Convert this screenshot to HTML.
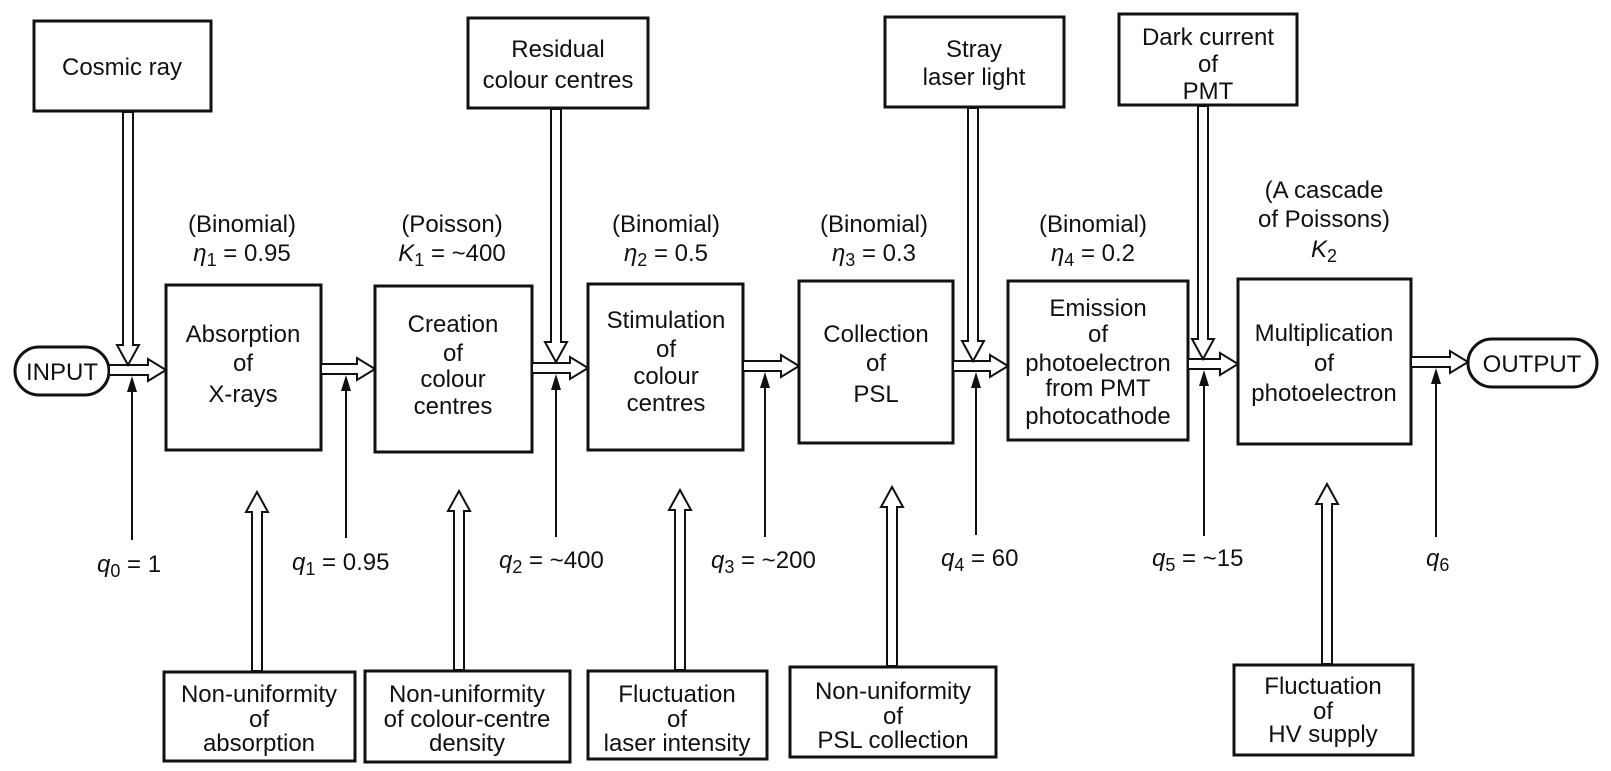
<!DOCTYPE html>
<html><head><meta charset="utf-8"><style>
html,body{margin:0;padding:0;background:#fff;}
svg{display:block;}
text{font-family:"Liberation Sans",Arial,sans-serif;font-size:24px;fill:#111;}
.c{text-anchor:middle;}
.i{font-style:italic;}
</style></head><body>
<svg width="1611" height="771" viewBox="0 0 1611 771" xmlns="http://www.w3.org/2000/svg">
<g fill="#fff" stroke="#111" stroke-width="3">
<rect x="166" y="285" width="155" height="165"/>
<rect x="375" y="286" width="157" height="166"/>
<rect x="588" y="284" width="155" height="166"/>
<rect x="799" y="281" width="154" height="162"/>
<rect x="1008" y="281" width="180" height="159"/>
<rect x="1238" y="279" width="173" height="165"/>
<rect x="15" y="347" width="94" height="48" rx="24"/>
<rect x="1468" y="339" width="129" height="48" rx="24"/>
<rect x="34" y="21" width="177" height="90"/>
<rect x="468" y="18" width="180" height="90"/>
<rect x="885" y="17" width="179" height="90"/>
<rect x="1119" y="14" width="178" height="91"/>
<rect x="164" y="672" width="191" height="89"/>
<rect x="365" y="671" width="205" height="91"/>
<rect x="588" y="671" width="179" height="88"/>
<rect x="790" y="667" width="206" height="90"/>
<rect x="1234" y="665" width="179" height="90"/>
</g>
<g fill="#fff" stroke="#111" stroke-width="2" stroke-linejoin="miter">
<polygon points="109,365 148,365 148,359 166,370 148,381 148,375 109,375"/>
<polygon points="321,364 357,364 357,358 375,369 357,380 357,374 321,374"/>
<polygon points="532,363 570,363 570,357 588,368 570,379 570,373 532,373"/>
<polygon points="743,361 781,361 781,355 799,366 781,377 781,371 743,371"/>
<polygon points="953,361 990,361 990,355 1008,366 990,377 990,371 953,371"/>
<polygon points="1188,359 1220,359 1220,353 1238,364 1220,375 1220,369 1188,369"/>
<polygon points="1411,357 1450,357 1450,351 1468,362 1450,373 1450,367 1411,367"/>
<polygon points="123,112 123,345 117,345 128,365 139,345 133,345 133,112"/>
<polygon points="551,109 551,342 545,342 556,362 567,342 561,342 561,109"/>
<polygon points="968,108 968,341 962,341 973,361 984,341 978,341 978,108"/>
<polygon points="1198,106 1198,339 1192,339 1203,359 1214,339 1208,339 1208,106"/>
<polygon points="252,671 252,512 246,512 257,492 268,512 262,512 262,671"/>
<polygon points="454,670 454,511 448,511 459,491 470,511 464,511 464,670"/>
<polygon points="675,670 675,510 669,510 680,490 691,510 685,510 685,670"/>
<polygon points="887,666 887,507 881,507 892,487 903,507 897,507 897,666"/>
<polygon points="1322,664 1322,504 1316,504 1327,484 1338,504 1332,504 1332,664"/>
</g>
<g stroke="#111" stroke-width="2">
<line x1="132" y1="540" x2="132" y2="390"/>
<line x1="346" y1="538" x2="346" y2="389"/>
<line x1="556" y1="537" x2="556" y2="388"/>
<line x1="765" y1="537" x2="765" y2="386"/>
<line x1="976" y1="535" x2="976" y2="386"/>
<line x1="1204" y1="536" x2="1204" y2="384"/>
<line x1="1436" y1="537" x2="1436" y2="382"/>
</g>
<g fill="#111">
<polygon points="132,376 127,392 137,392"/>
<polygon points="346,375 341,391 351,391"/>
<polygon points="556,374 551,390 561,390"/>
<polygon points="765,372 760,388 770,388"/>
<polygon points="976,372 971,388 981,388"/>
<polygon points="1204,370 1199,386 1209,386"/>
<polygon points="1436,368 1431,384 1441,384"/>
</g>
<text x="62" y="380" class="c">INPUT</text>
<text x="1532" y="372" class="c">OUTPUT</text>
<text class="c"><tspan x="243" y="342">Absorption</tspan><tspan x="243" y="371">of</tspan><tspan x="243" y="402">X-rays</tspan></text>
<text class="c"><tspan x="453" y="332">Creation</tspan><tspan x="453" y="361">of</tspan><tspan x="453" y="387">colour</tspan><tspan x="453" y="414">centres</tspan></text>
<text class="c"><tspan x="666" y="328">Stimulation</tspan><tspan x="666" y="357">of</tspan><tspan x="666" y="384">colour</tspan><tspan x="666" y="411">centres</tspan></text>
<text class="c"><tspan x="876" y="342">Collection</tspan><tspan x="876" y="371">of</tspan><tspan x="876" y="402">PSL</tspan></text>
<text class="c"><tspan x="1098" y="316">Emission</tspan><tspan x="1098" y="342">of</tspan><tspan x="1098" y="371">photoelectron</tspan><tspan x="1098" y="396">from PMT</tspan><tspan x="1098" y="424">photocathode</tspan></text>
<text class="c"><tspan x="1324" y="341">Multiplication</tspan><tspan x="1324" y="371">of</tspan><tspan x="1324" y="401">photoelectron</tspan></text>
<text class="c" x="122" y="75">Cosmic ray</text>
<text class="c"><tspan x="558" y="57">Residual</tspan><tspan x="558" y="88">colour centres</tspan></text>
<text class="c"><tspan x="974" y="57">Stray</tspan><tspan x="974" y="85">laser light</tspan></text>
<text class="c"><tspan x="1208" y="45">Dark current</tspan><tspan x="1208" y="72">of</tspan><tspan x="1208" y="99">PMT</tspan></text>
<text class="c"><tspan x="259" y="702">Non-uniformity</tspan><tspan x="259" y="727">of</tspan><tspan x="259" y="751">absorption</tspan></text>
<text class="c"><tspan x="467" y="702">Non-uniformity</tspan><tspan x="467" y="727">of colour-centre</tspan><tspan x="467" y="751">density</tspan></text>
<text class="c"><tspan x="677" y="702">Fluctuation</tspan><tspan x="677" y="727">of</tspan><tspan x="677" y="751">laser intensity</tspan></text>
<text class="c"><tspan x="893" y="699">Non-uniformity</tspan><tspan x="893" y="724">of</tspan><tspan x="893" y="748">PSL collection</tspan></text>
<text class="c"><tspan x="1323" y="694">Fluctuation</tspan><tspan x="1323" y="719">of</tspan><tspan x="1323" y="742">HV supply</tspan></text>
<text class="c" x="242" y="232">(Binomial)</text>
<text class="c" x="242" y="261"><tspan class="i">η</tspan><tspan font-size="18" dy="5">1</tspan><tspan dy="-5"> = 0.95</tspan></text>
<text class="c" x="452" y="232">(Poisson)</text>
<text class="c" x="452" y="261"><tspan class="i">K</tspan><tspan font-size="18" dy="5">1</tspan><tspan dy="-5"> = ~400</tspan></text>
<text class="c" x="666" y="232">(Binomial)</text>
<text class="c" x="666" y="261"><tspan class="i">η</tspan><tspan font-size="18" dy="5">2</tspan><tspan dy="-5"> = 0.5</tspan></text>
<text class="c" x="874" y="232">(Binomial)</text>
<text class="c" x="874" y="261"><tspan class="i">η</tspan><tspan font-size="18" dy="5">3</tspan><tspan dy="-5"> = 0.3</tspan></text>
<text class="c" x="1093" y="232">(Binomial)</text>
<text class="c" x="1093" y="261"><tspan class="i">η</tspan><tspan font-size="18" dy="5">4</tspan><tspan dy="-5"> = 0.2</tspan></text>
<text class="c" x="1324" y="198">(A cascade</text>
<text class="c" x="1324" y="227">of Poissons)</text>
<text class="c" x="1324" y="257"><tspan class="i">K</tspan><tspan font-size="18" dy="5">2</tspan></text>
<text x="97" y="572"><tspan class="i">q</tspan><tspan font-size="18" dy="5">0</tspan><tspan dy="-5"> = 1</tspan></text>
<text x="292" y="570"><tspan class="i">q</tspan><tspan font-size="18" dy="5">1</tspan><tspan dy="-5"> = 0.95</tspan></text>
<text x="499" y="568"><tspan class="i">q</tspan><tspan font-size="18" dy="5">2</tspan><tspan dy="-5"> = ~400</tspan></text>
<text x="711" y="568"><tspan class="i">q</tspan><tspan font-size="18" dy="5">3</tspan><tspan dy="-5"> = ~200</tspan></text>
<text x="941" y="566"><tspan class="i">q</tspan><tspan font-size="18" dy="5">4</tspan><tspan dy="-5"> = 60</tspan></text>
<text x="1152" y="566"><tspan class="i">q</tspan><tspan font-size="18" dy="5">5</tspan><tspan dy="-5"> = ~15</tspan></text>
<text x="1426" y="566"><tspan class="i">q</tspan><tspan font-size="18" dy="5">6</tspan></text>
</svg>
</body></html>
